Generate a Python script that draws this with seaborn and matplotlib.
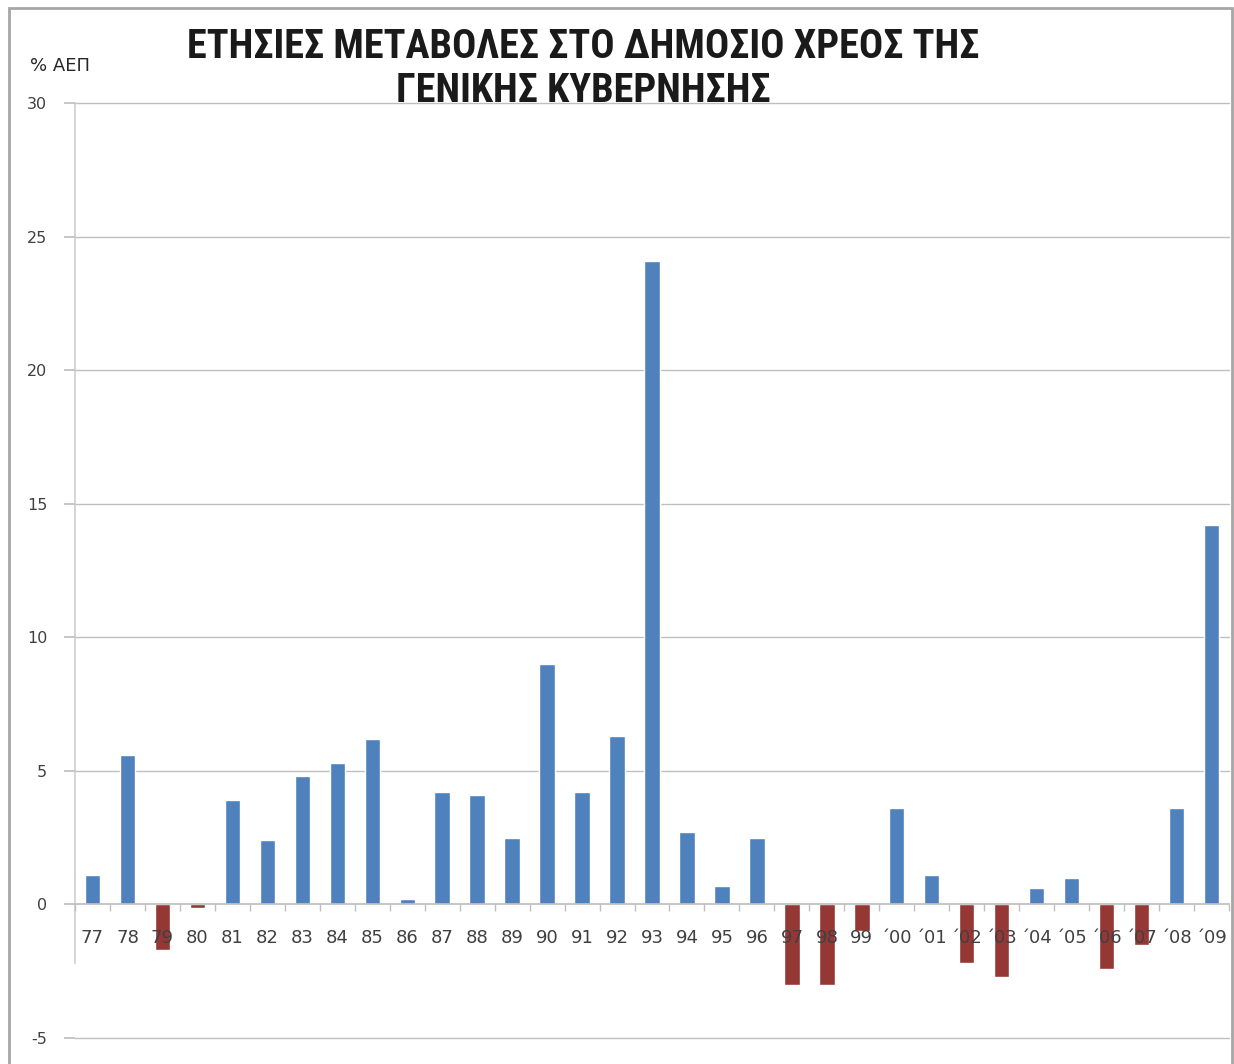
import matplotlib
matplotlib.use("Agg")
import matplotlib.pyplot as plt
import seaborn as sns
import pandas as pd
import numpy as np
from matplotlib.patches import Rectangle
import logging
logging.getLogger("matplotlib.font_manager").setLevel(logging.ERROR)

years = ["77", "78", "79", "80", "81", "82", "83", "84", "85", "86", "87", "88",
         "89", "90", "91", "92", "93", "94", "95", "96", "97", "98", "99",
         "΄00", "΄01", "΄02", "΄03", "΄04", "΄05", "΄06", "΄07", "΄08", "΄09"]
changes = [1.1, 5.6, -1.7, -0.15, 3.9, 2.4, 4.8, 5.3, 6.2, 0.2, 4.2, 4.1,
           2.5, 9.0, 4.2, 6.3, 24.1, 2.7, 0.7, 2.5, -3.0, -3.0, -1.0,
           3.6, 1.1, -2.2, -2.7, 0.6, 1.0, -2.4, -1.5, 3.6, 14.2]
y_ticks = [-5, 0, 5, 10, 15, 20, 25, 30]

df = pd.DataFrame({"year": years, "change": changes})
df["sign"] = np.where(df["change"] >= 0, "pos", "neg")

sns.set_theme(style="white")
plt.rcParams["font.family"] = ["DejaVu Sans"]

fig = plt.figure(figsize=(12.34, 10.64), dpi=100)
W, H = 1234, 1064
ax = fig.add_axes([75 / W, 1 - 1038 / H, (1229 - 75) / W, (1038 - 103) / H])

sns.barplot(data=df, x="year", y="change", hue="sign", order=years,
            palette={"pos": "#4F81BD", "neg": "#953735"}, dodge=False,
            width=0.44, saturation=1, legend=False, ax=ax)

ax.set_ylim(-5, 30)
ax.set_xlim(-0.5, len(years) - 0.5)
ax.set_yticks(y_ticks)
ax.set_yticklabels([str(v) for v in y_ticks], fontsize=11.5, color="#404040")
for v in y_ticks:
    if v != 0:
        ax.axhline(v, color="#bfbfbf", lw=1, zorder=0, clip_on=False)
ax.set_xlabel("")
ax.set_ylabel("")
ax.set_axisbelow(False)

for s in ["top", "right"]:
    ax.spines[s].set_visible(False)
ax.spines["left"].set_color("#d0d0d0")
ax.spines["left"].set_bounds(-2.2, 30)
ax.spines["bottom"].set_position(("data", 0))
ax.spines["bottom"].set_color("#bfbfbf")
ax.tick_params(axis="y", length=8, color="#bfbfbf", pad=12, left=True)
ax.tick_params(axis="x", which="major", length=0, pad=18, labelsize=13,
               labelcolor="#404040", bottom=True)
ax.set_xticks(np.arange(-0.5, len(years), 1), minor=True)
ax.tick_params(axis="x", which="minor", length=5, color="#bfbfbf",
               direction="out", bottom=True)

title_fam = ["Roboto Condensed", "Liberation Sans Narrow", "Roboto", "DejaVu Sans"]
fig.text(583 / W, 1 - 47 / H, "ΕΤΗΣΙΕΣ ΜΕΤΑΒΟΛΕΣ ΣΤΟ ΔΗΜΟΣΙΟ ΧΡΕΟΣ ΤΗΣ",
         ha="center", va="center", fontsize=29, fontweight="bold",
         family=title_fam, color="#1a1a1a")
fig.text(583 / W, 1 - 91 / H, "ΓΕΝΙΚΗΣ ΚΥΒΕΡΝΗΣΗΣ",
         ha="center", va="center", fontsize=29, fontweight="bold",
         family=title_fam, color="#1a1a1a")
fig.text(30 / W, 1 - 66 / H, "% ΑΕΠ", ha="left", va="center", fontsize=13,
         color="#262626")

fig.patches.append(Rectangle((9 / W, -0.01), (1232 - 9) / W, 1 - 8 / H + 0.01,
                             transform=fig.transFigure, fill=False,
                             edgecolor="#a6a6a6", lw=2))

fig.savefig("out.png", dpi=100)
